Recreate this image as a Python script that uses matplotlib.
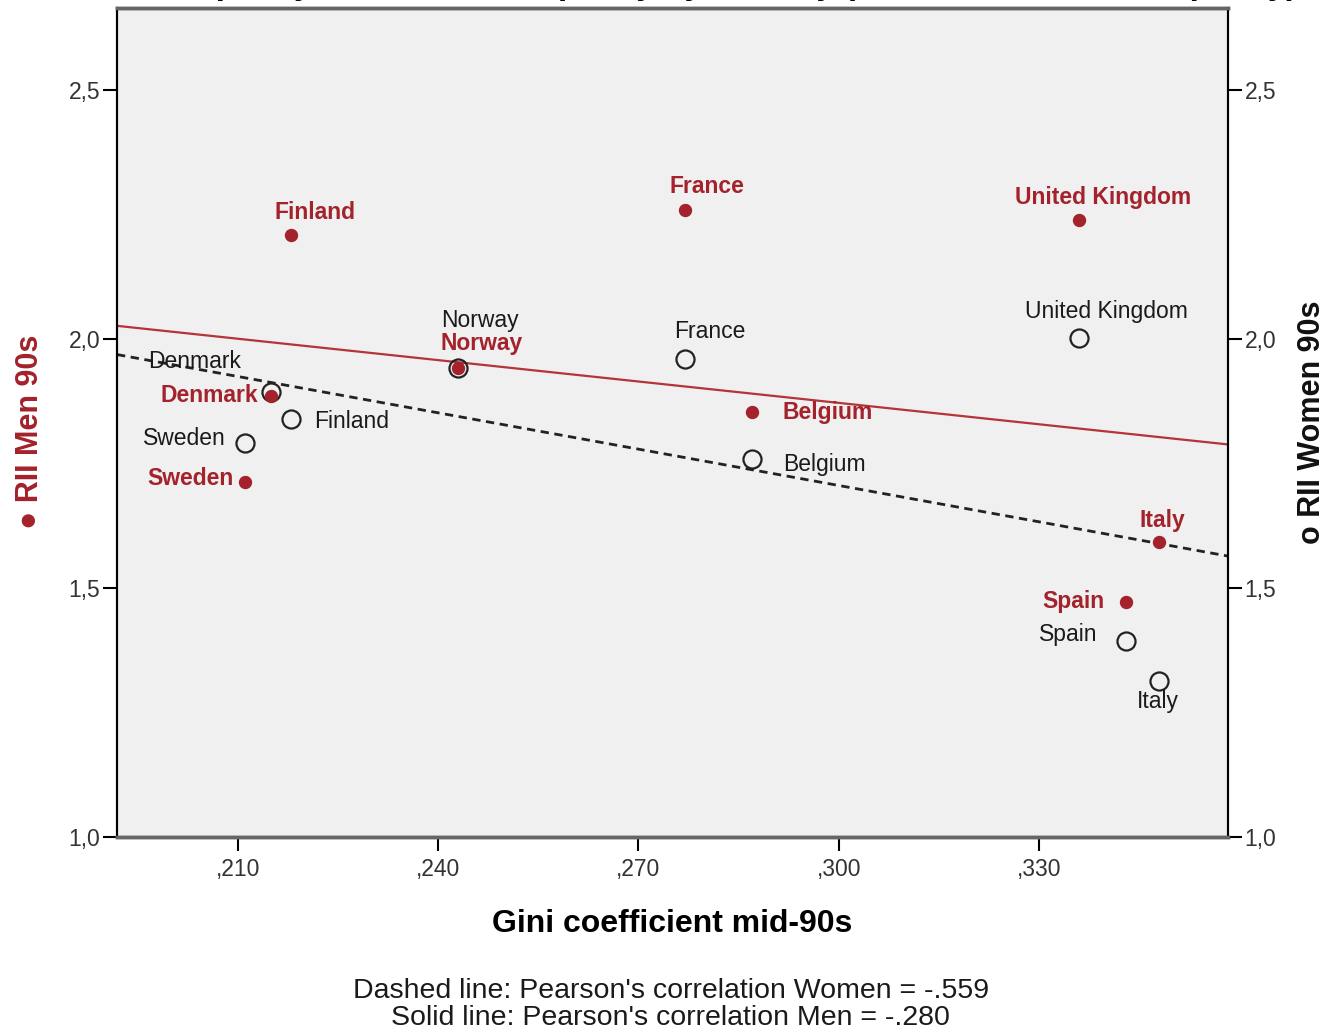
import numpy as np
import matplotlib
matplotlib.use("Agg")
import matplotlib.pyplot as plt

plt.rcParams['font.family'] = ['Liberation Sans', 'DejaVu Sans']

# Gini coefficient and Relative Index of Inequality, mid-90s
countries = ["Finland", "France", "United Kingdom", "Norway", "Denmark",
             "Sweden", "Belgium", "Italy", "Spain"]
gini = [0.218, 0.277, 0.336, 0.243, 0.215, 0.211, 0.287, 0.348, 0.343]
rii_men = [2.209, 2.259, 2.239, 1.942, 1.886, 1.713, 1.853, 1.592, 1.472]
rii_women = [1.839, 1.960, 2.002, 1.942, 1.894, 1.791, 1.759, 1.313, 1.394]
r_women = "-.559"
r_men = "-.280"

# label placement (pixel offset from the point, horizontal alignment)
men_lab = {
    "Finland": (24, 23, "center"), "France": (22, 24, "center"),
    "United Kingdom": (24, 23, "center"), "Norway": (23, 24, "center"),
    "Denmark": (-13, 0, "right"), "Sweden": (-11, 3, "right"),
    "Belgium": (31, 0, "left"), "Italy": (3, 22, "center"),
    "Spain": (-21, 0, "right"),
}
women_lab = {
    "Finland": (23, -2, "left"), "France": (25, 28, "center"),
    "United Kingdom": (27, 27, "center"), "Norway": (22, 47, "center"),
    "Denmark": (-30, 30, "right"), "Sweden": (-19, 5, "right"),
    "Belgium": (31, -5, "left"), "Italy": (-1, -20, "center"),
    "Spain": (-28, 6, "right"),
}

red = "#a3222b"
xlim = (0.1919, 0.3583)
ylim = (1.0, 2.665)

fig = plt.figure(figsize=(13.28, 10.32), dpi=100)
ax = fig.add_axes([0.0881, 0.1890, 0.8366, 0.8032])
ax.set_facecolor("#f0f0f0")
ax.set_xlim(*xlim)
ax.set_ylim(*ylim)

# fitted lines
xs = np.array(xlim)
bw = np.polyfit(gini, rii_women, 1)
bm = np.polyfit(gini, rii_men, 1)
ax.plot(xs, np.polyval(bm, xs), color="#b5343a", lw=1.6, zorder=2)
ax.plot(xs, np.polyval(bw, xs), color="#222222", lw=2, ls=(0, (3, 2)), zorder=2)

ax.plot(gini, rii_women, "o", ms=13, mfc="none", mec="#222222", mew=1.6, zorder=3)
ax.plot(gini, rii_men, "o", ms=8.6, mfc=red, mec=red, zorder=4)

for c, x, y in zip(countries, gini, rii_men):
    dx, dy, ha = men_lab[c]
    ax.annotate(c, (x, y), xytext=(dx, dy), textcoords="offset pixels",
                ha=ha, va="center", fontsize=16.5, fontweight="bold",
                color=red, zorder=5)
for c, x, y in zip(countries, gini, rii_women):
    dx, dy, ha = women_lab[c]
    ax.annotate(c, (x, y), xytext=(dx, dy), textcoords="offset pixels",
                ha=ha, va="center", fontsize=16.5, color="#1a1a1a", zorder=5)

xt = [0.21, 0.24, 0.27, 0.30, 0.33]
yt = [1.0, 1.5, 2.0, 2.5]
ax.set_xticks(xt)
ax.set_xticklabels([("%.3f" % v)[1:].replace(".", ",") for v in xt])
ax.set_yticks(yt)
ax.set_yticklabels([("%.1f" % v).replace(".", ",") for v in yt])
ax.tick_params(length=10, width=1.5, labelsize=16.5, labelcolor="#333333", pad=5)
ax.tick_params(axis="y", pad=2)

ax2 = ax.twinx()
ax2.set_ylim(*ylim)
ax2.set_yticks(yt)
ax2.set_yticklabels([("%.1f" % v).replace(".", ",") for v in yt])
ax2.tick_params(length=10, width=1.5, labelsize=16.5, labelcolor="#333333", pad=2)

for a in (ax, ax2):
    a.spines["left"].set_color("black")
    a.spines["right"].set_color("black")
    a.spines["left"].set_linewidth(1.5)
    a.spines["right"].set_linewidth(1.5)
    a.spines["top"].set_color("#666666")
    a.spines["bottom"].set_color("#666666")
    a.spines["top"].set_linewidth(2.5)
    a.spines["bottom"].set_linewidth(2.5)

ax.set_xlabel("Gini coefficient mid-90s", fontsize=23, fontweight="bold", labelpad=20)
fig.text(0.0226, 0.582, "\u25cf RII Men 90s", rotation=90, ha="center", va="center",
         fontsize=22, fontweight="bold", color=red)
fig.text(0.9880, 0.591, "o RII Women 90s", rotation=90, ha="center", va="center",
         fontsize=22, fontweight="bold", color="#111111")

fig.text(0.5, 1.006, "Income inequality and health inequality by country (Relative Index of Inequality)",
         ha="center", va="baseline", fontsize=24, fontweight="bold")

fig.text(0.505, 0.001,
         "Dashed line: Pearson's correlation Women = " + r_women + "\n"
         "Solid line: Pearson's correlation Men = " + r_men,
         ha="center", va="bottom", fontsize=20.5, linespacing=1.05, color="#1a1a1a")

fig.savefig("out.png", dpi=100)
